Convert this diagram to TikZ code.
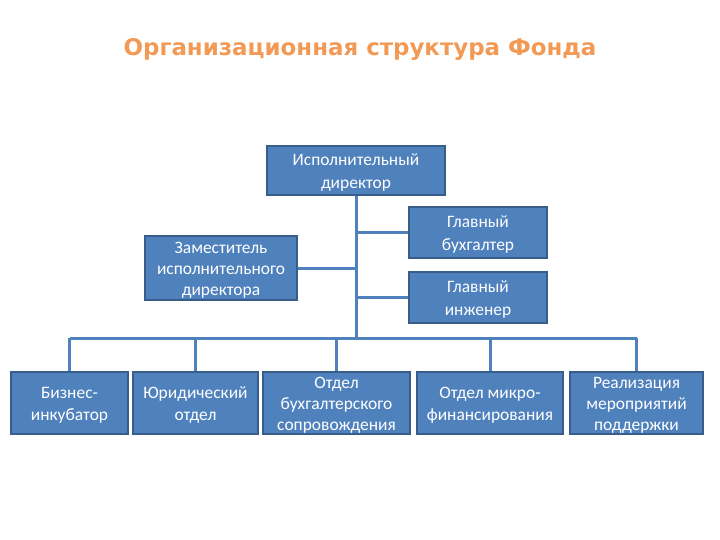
\documentclass[tikz,border=0pt]{standalone}
\usepackage{fontspec}
\setmainfont{Carlito}
\newfontfamily\titlefont{DejaVu Sans}
\definecolor{boxfill}{HTML}{4F81BD}
\definecolor{boxline}{HTML}{385D8A}
\definecolor{titleorange}{HTML}{F29A55}
\newcommand{\topgap}{\rule{0pt}{16bp}}
\tikzset{
  unit box/.style={draw=boxline, line width=1.2bp, fill=boxfill, text=white,
    align=center, inner sep=0pt, font=\fontsize{17.5}{22.5}\selectfont},
  tight/.style={font=\fontsize{17.5}{21}\selectfont},
  link/.style={draw=boxfill, line width=3bp}
}
\begin{document}
\begin{tikzpicture}[x=1bp,y=-1bp]
            \useasboundingbox (0,0) rectangle (720,540);
            
            % Title
            \node (title) at (360,49) {\titlefont\bfseries\fontsize{23}{26}\selectfont\color{titleorange}Организационная структура Фонда};
            
            % Drawing upper units
            \node [unit box, minimum width=178bp, minimum height=49bp] (dir) at (356,170.5) {\topgap Исполнительный\\директор};
            \node [unit box, tight, minimum width=152bp, minimum height=64bp] (dep) at (221,268) {\topgap Заместитель\\исполнительного\\директора};
            \node [unit box, minimum width=138bp, minimum height=51bp] (acc) at (478,232.5) {\topgap Главный\\бухгалтер};
            \node [unit box, minimum width=138bp, minimum height=51bp] (eng) at (478,297.5) {\topgap Главный\\инженер};
            
            % Drawing lower units
            \node [unit box, minimum width=117bp, minimum height=62bp] (inc) at (69.5,403) {\topgap Бизнес-\\инкубатор};
            \node [unit box, minimum width=125bp, minimum height=62bp] (jur) at (195.5,403) {\topgap Юридический\\отдел};
            \node [unit box, tight, minimum width=147bp, minimum height=62bp] (buh) at (336.5,403) {\topgap Отдел\\бухгалтерского\\сопровождения};
            \node [unit box, minimum width=146bp, minimum height=62bp] (mic) at (490,403) {\topgap Отдел микро-\\финансирования};
            \node [unit box, tight, minimum width=133bp, minimum height=62bp] (real) at (636.5,403) {\topgap Реализация\\мероприятий\\поддержки};
            
            % Drawing bus line
            \coordinate (busL) at (69.5,338);
            \coordinate (busR) at (636.5,338);
            \draw [link] (busL) -- (busR);
            
            % Drawing trunk and branches
            \draw [link] (dir.south) -- (dir.south |- busL);
            \draw [link] (dep.east) -- (dep.east -| dir.south);
            \draw [link] (acc.west) -- (acc.west -| dir.south);
            \draw [link] (eng.west) -- (eng.west -| dir.south);
            
            % Drawing drops to lower units
            \foreach \u in {inc,jur,buh,mic,real}
              \draw [link] (\u.north) -- (\u.north |- busL);
        \end{tikzpicture}
\end{document}
